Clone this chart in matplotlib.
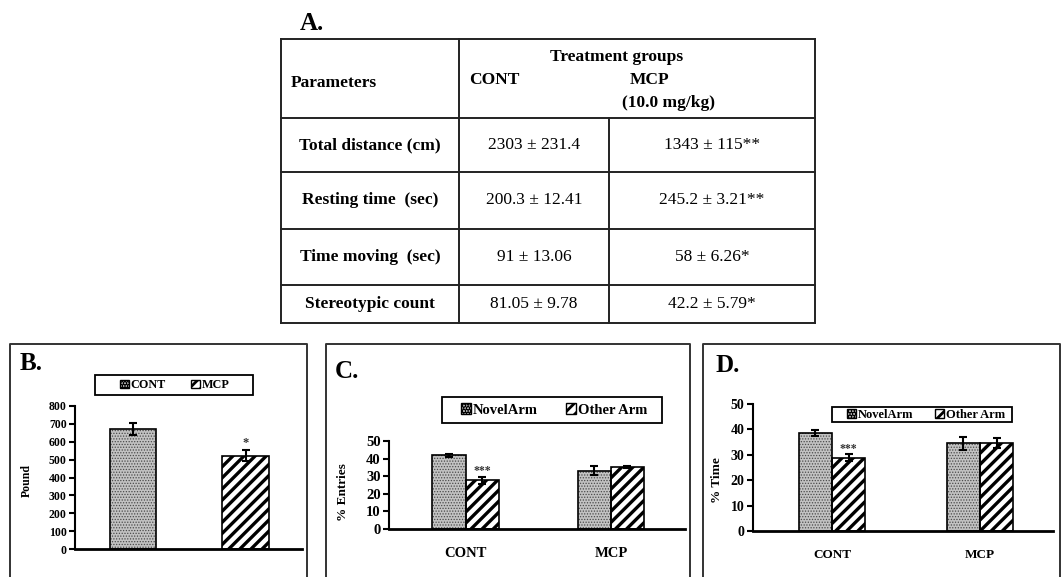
import matplotlib
matplotlib.use("Agg")
import matplotlib.pyplot as plt
import matplotlib.patches as mpatches
import numpy as np

plt.rcParams['font.family'] = ['Liberation Serif', 'DejaVu Serif']
plt.rcParams['font.weight'] = 'bold'
plt.rcParams['hatch.linewidth'] = 2.0

# ---------------- data ----------------
# Panel A table
table_header = "Treatment groups"
table_col_cont = "CONT"
table_col_mcp = "MCP"
table_col_mcp_dose = "(10.0 mg/kg)"
table_params = ["Total distance (cm)", "Resting time  (sec)", "Time moving  (sec)", "Stereotypic count"]
table_cont = ["2303 ± 231.4", "200.3 ± 12.41", "91 ± 13.06", "81.05 ± 9.78"]
table_mcp = ["1343 ± 115**", "245.2 ± 3.21**", "58 ± 6.26*", "42.2 ± 5.79*"]

# Panel B
b_groups = ["CONT", "MCP"]
b_values = [672, 522]
b_errors = [33, 32]
b_sig = ["", "*"]

# Panels C & D
arm_series = ["NovelArm", "Other Arm"]
groups = ["CONT", "MCP"]
c_novel = [41.8, 33.2]
c_novel_err = [0.8, 2.6]
c_other = [27.6, 35.2]
c_other_err = [2.0, 0.6]
c_sig = ["***", ""]

d_novel = [38.6, 34.6]
d_novel_err = [1.2, 2.6]
d_other = [28.9, 34.6]
d_other_err = [1.3, 2.0]
d_sig = ["***", ""]

# ---------------- styles ----------------
DOT = dict(facecolor='#c2c2c2', hatch='......', edgecolor='#4a4a4a', hlw=0.6)
STRIPE = dict(facecolor='white', hatch='///', edgecolor='black', hlw=2.4)

W, H = 1062, 577
fig = plt.figure(figsize=(W / 100, H / 100), dpi=100)
bg = fig.add_axes([0, 0, 1, 1])
bg.set_xlim(0, W)
bg.set_ylim(H, 0)
bg.axis('off')


def px_axes(l, r, top, bottom):
    ax = fig.add_axes([l / W, 1 - bottom / H, (r - l) / W, (bottom - top) / H])
    ax.patch.set_visible(False)
    return ax


def draw_bars(ax, x, vals, errs, st, width):
    with plt.rc_context({'hatch.linewidth': st['hlw']}):
        ax.bar(x, vals, width, color=st['facecolor'], hatch=st['hatch'],
               edgecolor=st['edgecolor'], linewidth=0, zorder=2)
    ax.bar(x, vals, width, fill=False, edgecolor='black', linewidth=1.2, zorder=3)
    ax.errorbar(x, vals, yerr=errs, fmt='none', ecolor='black', elinewidth=1.5,
                capsize=3, capthick=1.5, zorder=4)


def legend_handle(st):
    with plt.rc_context({'hatch.linewidth': min(st['hlw'], 1.2)}):
        p = mpatches.Patch(facecolor=st['facecolor'], hatch=st['hatch'],
                           edgecolor='black', linewidth=1.0)
    return p


def style_axes(ax, tick_fs):
    for s in ['top', 'right']:
        ax.spines[s].set_visible(False)
    ax.spines['left'].set_linewidth(1.5)
    ax.spines['bottom'].set_linewidth(2.0)
    ax.tick_params(axis='y', direction='out', length=4, width=1.5, labelsize=tick_fs, pad=2)
    for t in ax.get_yticklabels():
        t.set_fontweight('bold')


def add_legend(labels, box, center_x, fs, colsp):
    x0, y0, x1, y1 = box
    bg.add_patch(mpatches.Rectangle((x0, y0), x1 - x0, y1 - y0, facecolor='white',
                                    edgecolor='black', linewidth=1.3, zorder=5))
    fig.legend([legend_handle(DOT), legend_handle(STRIPE)], labels, ncol=2,
               loc='center', bbox_to_anchor=(center_x, (y0 + y1) / 2), bbox_transform=bg.transData,
               frameon=False, handlelength=0.7, handleheight=0.7, handletextpad=0.15,
               columnspacing=colsp, borderpad=0, borderaxespad=0,
               prop={'weight': 'bold', 'size': fs})


# ---------------- Panel A: table ----------------
lw_t = 1.4
tl, tr, tt, tb = 281, 815, 39, 323
c1, c2 = 459, 609
rows_y = [118, 172, 229, 285]
lc = '#222222'
bg.plot([tl, tr], [tt, tt], color=lc, lw=lw_t)
bg.plot([tl, tr], [tb, tb], color=lc, lw=lw_t)
for y in rows_y:
    bg.plot([tl, tr], [y, y], color=lc, lw=lw_t)
bg.plot([tl, tl], [tt, tb], color=lc, lw=lw_t)
bg.plot([tr, tr], [tt, tb], color=lc, lw=lw_t)
bg.plot([c1, c1], [tt, tb], color=lc, lw=lw_t)
bg.plot([c2, c2], [rows_y[0], tb], color=lc, lw=lw_t)

bg.text(300, 23, "A.", fontsize=18, fontweight='bold', ha='left', va='center')
fs_t = 12.5
bg.text(291, 83, "Parameters", fontsize=fs_t, fontweight='bold', ha='left', va='center')
bg.text(617, 57, table_header, fontsize=fs_t, fontweight='bold', ha='center', va='center')
bg.text(469, 80, table_col_cont, fontsize=fs_t, fontweight='bold', ha='left', va='center')
bg.text(650, 80, table_col_mcp, fontsize=fs_t, fontweight='bold', ha='center', va='center')
bg.text(668, 103, table_col_mcp_dose, fontsize=fs_t, fontweight='bold', ha='center', va='center')
row_centers = [(a + b) / 2 for a, b in zip(rows_y, rows_y[1:] + [tb])]
for yc, p, cv, mv in zip(row_centers, table_params, table_cont, table_mcp):
    bg.text((tl + c1) / 2, yc, p, fontsize=fs_t, fontweight='bold', ha='center', va='center')
    bg.text((c1 + c2) / 2, yc, cv, fontsize=fs_t, fontweight='normal', ha='center', va='center')
    bg.text((c2 + tr) / 2, yc, mv, fontsize=fs_t, fontweight='normal', ha='center', va='center')

# panel frames
for l, r in [(10, 307), (326, 690), (703, 1060)]:
    bg.plot([l, l, r, r], [H + 5, 344, 344, H + 5], color='#333333', lw=1.4)
bg.text(20, 364, "B.", fontsize=18, fontweight='bold', ha='left', va='center')
bg.text(335, 372, "C.", fontsize=18, fontweight='bold', ha='left', va='center')
bg.text(715, 365, "D.", fontsize=18, fontweight='bold', ha='left', va='center')

# ---------------- Panel B ----------------
axB = px_axes(75, 302, 406, 549)
xb = np.arange(len(b_groups))
for i, st in enumerate([DOT, STRIPE]):
    draw_bars(axB, [xb[i]], [b_values[i]], [b_errors[i]], st, 0.41)
    if b_sig[i]:
        axB.text(xb[i], b_values[i] + b_errors[i] + 6, b_sig[i], ha='center', va='bottom',
                 fontsize=9, color='#333333')
axB.set_xlim(-0.516, 1.502)
axB.set_ylim(0, 800)
axB.set_yticks(np.arange(0, 801, 100))
axB.set_xticks([])
style_axes(axB, 8.5)
axB.set_ylabel("Pound", fontsize=8.5, fontweight='bold')
axB.yaxis.set_label_coords(-0.185, 0.48)
add_legend(b_groups, (95, 375, 253, 395), 175, 8.7, 2.1)


def grouped(ax, novel, nerr, other, oerr, sig, width, sfs):
    x = np.arange(len(groups))
    draw_bars(ax, x - width / 2, novel, nerr, DOT, width)
    draw_bars(ax, x + width / 2, other, oerr, STRIPE, width)
    for i in range(len(groups)):
        if sig[i]:
            ax.text(x[i] + width / 2, other[i] + oerr[i] - 0.3, sig[i], ha='center',
                    va='bottom', fontsize=sfs, color='#333333')
    ax.set_xticks(x)
    ax.set_xticklabels(groups)


# ---------------- Panel C ----------------
axC = px_axes(389, 685, 441, 529)
grouped(axC, c_novel, c_novel_err, c_other, c_other_err, c_sig, 0.227, 8.5)
axC.set_xlim(-0.526, 1.509)
axC.set_ylim(0, 50)
axC.set_yticks(np.arange(0, 51, 10))
style_axes(axC, 10.5)
axC.tick_params(axis='x', length=0, pad=13, labelsize=10.5)
for t in axC.get_xticklabels():
    t.set_fontweight('bold')
axC.set_ylabel("% Entries", fontsize=9.5, fontweight='bold')
axC.yaxis.set_label_coords(-0.135, 0.42)
add_legend(arm_series, (442, 397, 662, 423), 554, 10.5, 1.9)

# ---------------- Panel D ----------------
axD = px_axes(753, 1053, 404, 531)
grouped(axD, d_novel, d_novel_err, d_other, d_other_err, d_sig, 0.226, 8.5)
axD.set_xlim(-0.534, 1.493)
axD.set_ylim(0, 50)
axD.set_yticks(np.arange(0, 51, 10))
style_axes(axD, 10)
axD.tick_params(axis='x', length=0, pad=13, labelsize=9.5)
for t in axD.get_xticklabels():
    t.set_fontweight('bold')
axD.set_ylabel("% Time", fontsize=9.5, fontweight='bold')
axD.yaxis.set_label_coords(-0.1, 0.4)
add_legend(arm_series, (832, 407, 1012, 422), 926, 9.0, 1.8)

fig.savefig("out.png", dpi=100)
